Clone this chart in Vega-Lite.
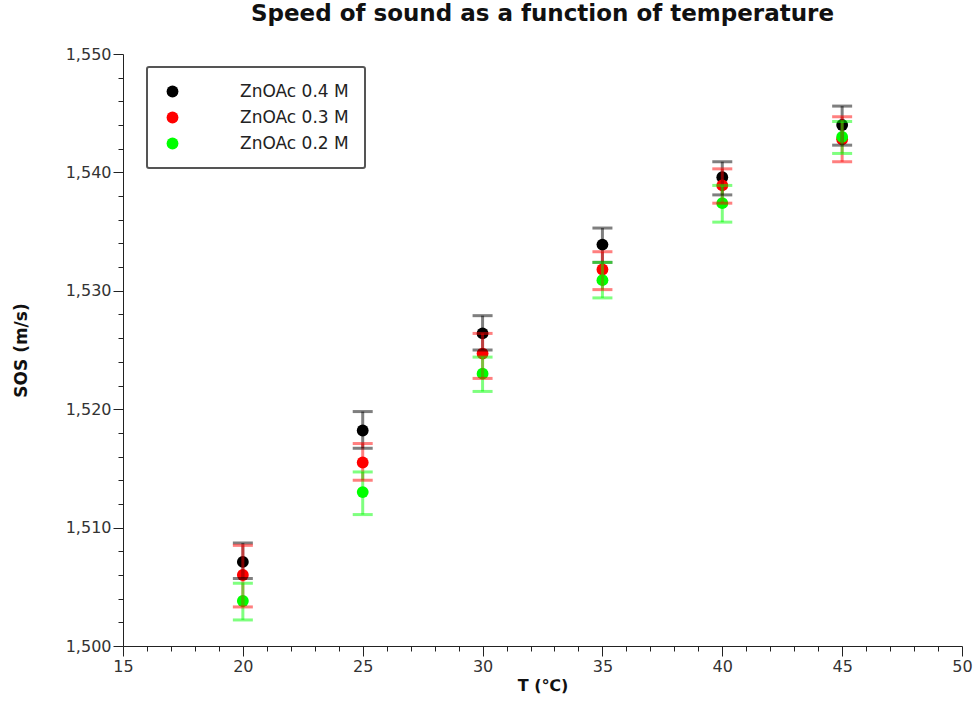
{
  "$schema": "https://vega.github.io/schema/vega-lite/v6.json",
  "width": 839,
  "height": 592,
  "autosize": "none",
  "padding": {"left": 123, "top": 54, "right": 13, "bottom": 76},
  "title": {"text": "Speed of sound as a function of temperature", "font": "DejaVu Sans", "fontSize": 23, "fontWeight": "bold", "color": "#111111", "offset": 20, "anchor": "middle"},
  "config": {"view": {"stroke": null}, "font": "DejaVu Sans"},
  "data": {"values": [
    {"T": 20, "series": "ZnOAc 0.4 M", "sos": 1507.1, "lo": 1505.7, "hi": 1508.7},
    {"T": 25, "series": "ZnOAc 0.4 M", "sos": 1518.2, "lo": 1516.7, "hi": 1519.8},
    {"T": 30, "series": "ZnOAc 0.4 M", "sos": 1526.4, "lo": 1525.0, "hi": 1527.9},
    {"T": 35, "series": "ZnOAc 0.4 M", "sos": 1533.9, "lo": 1532.4, "hi": 1535.3},
    {"T": 40, "series": "ZnOAc 0.4 M", "sos": 1539.6, "lo": 1538.1, "hi": 1540.9},
    {"T": 45, "series": "ZnOAc 0.4 M", "sos": 1544.0, "lo": 1542.3, "hi": 1545.6},
    {"T": 20, "series": "ZnOAc 0.3 M", "sos": 1506.0, "lo": 1503.3, "hi": 1508.5},
    {"T": 25, "series": "ZnOAc 0.3 M", "sos": 1515.5, "lo": 1514.0, "hi": 1517.1},
    {"T": 30, "series": "ZnOAc 0.3 M", "sos": 1524.7, "lo": 1522.6, "hi": 1526.4},
    {"T": 35, "series": "ZnOAc 0.3 M", "sos": 1531.8, "lo": 1530.1, "hi": 1533.3},
    {"T": 40, "series": "ZnOAc 0.3 M", "sos": 1538.9, "lo": 1537.4, "hi": 1540.3},
    {"T": 45, "series": "ZnOAc 0.3 M", "sos": 1542.8, "lo": 1540.9, "hi": 1544.7},
    {"T": 20, "series": "ZnOAc 0.2 M", "sos": 1503.8, "lo": 1502.2, "hi": 1505.3},
    {"T": 25, "series": "ZnOAc 0.2 M", "sos": 1513.0, "lo": 1511.1, "hi": 1514.7},
    {"T": 30, "series": "ZnOAc 0.2 M", "sos": 1523.0, "lo": 1521.5, "hi": 1524.4},
    {"T": 35, "series": "ZnOAc 0.2 M", "sos": 1530.9, "lo": 1529.4, "hi": 1532.4},
    {"T": 40, "series": "ZnOAc 0.2 M", "sos": 1537.4, "lo": 1535.8, "hi": 1538.9},
    {"T": 45, "series": "ZnOAc 0.2 M", "sos": 1543.0, "lo": 1541.6, "hi": 1544.3}
  ]},
  "encoding": {
    "x": {
      "field": "T", "type": "quantitative",
      "scale": {"domain": [15, 50], "nice": false, "zero": false},
      "axis": {
        "values": [15,16,17,18,19,20,21,22,23,24,25,26,27,28,29,30,31,32,33,34,35,36,37,38,39,40,41,42,43,44,45,46,47,48,49,50],
        "labelExpr": "datum.value % 5 === 0 ? datum.label : ''",
        "tickSize": {"condition": {"test": "datum.value % 5 === 0", "value": 10}, "value": 5},
        "grid": false, "title": "T (℃)", "titleFontWeight": "bold", "titleFontSize": 16, "titleColor": "#111111",
        "labelFontSize": 16, "labelColor": "#333333", "labelFlush": false, "labelOverlap": false,
        "labelPadding": 2, "titlePadding": 3, "domainColor": "#222222", "tickColor": "#222222"
      }
    }
  },
  "layer": [
    {
      "mark": {"type": "point", "filled": true, "size": 140, "opacity": 1},
      "encoding": {
        "y": {
          "field": "sos", "type": "quantitative",
          "scale": {"domain": [1500, 1550], "nice": false, "zero": false},
          "axis": {
            "values": [1500,1502,1504,1506,1508,1510,1512,1514,1516,1518,1520,1522,1524,1526,1528,1530,1532,1534,1536,1538,1540,1542,1544,1546,1548,1550],
            "format": ",d",
            "labelExpr": "datum.value % 10 === 0 ? datum.label : ''",
            "tickSize": {"condition": {"test": "datum.value % 10 === 0", "value": 10}, "value": 5},
            "grid": false, "title": "SOS (m/s)", "titleFontWeight": "bold", "titleFontSize": 17, "titleColor": "#111111",
            "labelFontSize": 16, "labelColor": "#333333", "labelOverlap": false, "labelFlush": false, "labelSeparation": 0,
            "labelPadding": 2, "titlePadding": 35, "domainColor": "#222222", "tickColor": "#222222"
          }
        },
        "color": {"field": "series", "type": "nominal",
          "scale": {"domain": ["ZnOAc 0.4 M", "ZnOAc 0.3 M", "ZnOAc 0.2 M"], "range": ["#000000", "#ff0000", "#00ff00"]},
          "legend": {
            "title": null, "orient": "none", "legendX": 24, "legendY": 13,
            "symbolType": "circle", "symbolSize": 140, "labelFontSize": 17, "labelColor": "#222222",
            "labelOffset": 59, "rowPadding": 8, "padding": 16,
            "strokeColor": "#555555", "fillColor": "#ffffff",
            "symbolOffset": 1, "symbolStrokeWidth": 0, "symbolOpacity": 1,
            "encode": {"legend": {"update": {"strokeWidth": {"value": 2}, "cornerRadius": {"value": 2}}}}
          }
        }
      }
    },
    {
      "mark": {"type": "rule", "strokeWidth": 3, "opacity": 0.5},
      "encoding": {
        "y": {"field": "lo", "type": "quantitative",
          "axis": {
            "values": [1500,1502,1504,1506,1508,1510,1512,1514,1516,1518,1520,1522,1524,1526,1528,1530,1532,1534,1536,1538,1540,1542,1544,1546,1548,1550],
            "format": ",d",
            "labelExpr": "datum.value % 10 === 0 ? datum.label : ''",
            "tickSize": {"condition": {"test": "datum.value % 10 === 0", "value": 10}, "value": 5},
            "grid": false, "title": "SOS (m/s)", "titleFontWeight": "bold", "titleFontSize": 17, "titleColor": "#111111",
            "labelFontSize": 16, "labelColor": "#333333", "labelOverlap": false, "labelFlush": false, "labelSeparation": 0,
            "labelPadding": 2, "titlePadding": 35, "domainColor": "#222222", "tickColor": "#222222"
          }
        },
        "y2": {"field": "hi"},
        "stroke": {"field": "series", "type": "nominal", "legend": null,
          "scale": {"domain": ["ZnOAc 0.4 M", "ZnOAc 0.3 M", "ZnOAc 0.2 M"], "range": ["#000000", "#ff0000", "#00ff00"]}}
      }
    },
    {
      "mark": {"type": "tick", "orient": "horizontal", "size": 20, "thickness": 3, "opacity": 0.5},
      "encoding": {
        "y": {"field": "lo", "type": "quantitative",
          "axis": {
            "values": [1500,1502,1504,1506,1508,1510,1512,1514,1516,1518,1520,1522,1524,1526,1528,1530,1532,1534,1536,1538,1540,1542,1544,1546,1548,1550],
            "format": ",d",
            "labelExpr": "datum.value % 10 === 0 ? datum.label : ''",
            "tickSize": {"condition": {"test": "datum.value % 10 === 0", "value": 10}, "value": 5},
            "grid": false, "title": "SOS (m/s)", "titleFontWeight": "bold", "titleFontSize": 17, "titleColor": "#111111",
            "labelFontSize": 16, "labelColor": "#333333", "labelOverlap": false, "labelFlush": false, "labelSeparation": 0,
            "labelPadding": 2, "titlePadding": 35, "domainColor": "#222222", "tickColor": "#222222"
          }
        },
        "fill": {"field": "series", "type": "nominal", "legend": null,
          "scale": {"domain": ["ZnOAc 0.4 M", "ZnOAc 0.3 M", "ZnOAc 0.2 M"], "range": ["#000000", "#ff0000", "#00ff00"]}}
      }
    },
    {
      "mark": {"type": "tick", "orient": "horizontal", "size": 20, "thickness": 3, "opacity": 0.5},
      "encoding": {
        "y": {"field": "hi", "type": "quantitative",
          "axis": {
            "values": [1500,1502,1504,1506,1508,1510,1512,1514,1516,1518,1520,1522,1524,1526,1528,1530,1532,1534,1536,1538,1540,1542,1544,1546,1548,1550],
            "format": ",d",
            "labelExpr": "datum.value % 10 === 0 ? datum.label : ''",
            "tickSize": {"condition": {"test": "datum.value % 10 === 0", "value": 10}, "value": 5},
            "grid": false, "title": "SOS (m/s)", "titleFontWeight": "bold", "titleFontSize": 17, "titleColor": "#111111",
            "labelFontSize": 16, "labelColor": "#333333", "labelOverlap": false, "labelFlush": false, "labelSeparation": 0,
            "labelPadding": 2, "titlePadding": 35, "domainColor": "#222222", "tickColor": "#222222"
          }
        },
        "fill": {"field": "series", "type": "nominal", "legend": null}
      }
    }
  ]
}
